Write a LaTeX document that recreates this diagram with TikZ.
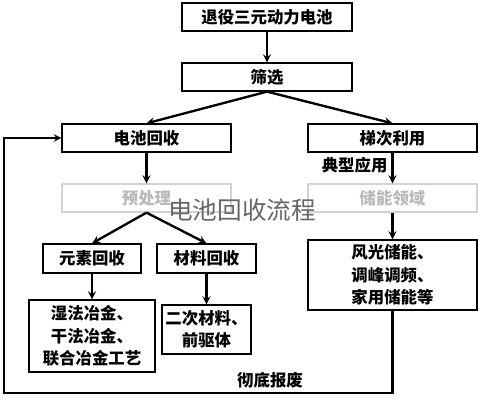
\documentclass[tikz,border=0pt]{standalone}
\usepackage{fontspec}
\setmainfont{Noto Sans CJK SC}
\begin{document}
\begin{tikzpicture}[>=stealth, x=0.03cm, y=-0.03cm,
    box/.style={draw, line width=1.1pt, minimum width=5.07cm, minimum height=0.84cm, inner sep=0pt, align=center, font=\fontsize{14}{19}\selectfont\bfseries},
    fadebox/.style={box, draw=gray!35, text=gray!55},
    flow/.style={->, line width=2pt}]
    \useasboundingbox (0,0) rectangle (478,400);
    \node[box, minimum width=5.1cm] (tc) at (267,17) {退役三元动力电池};
    \node[box, minimum width=5.1cm] (sx) at (267,77) {筛选};
    \node[box] (dc) at (146.5,138) {电池回收};
    \node[box] (td) at (392.5,138) {梯次利用};
    \node[fadebox] (yc) at (146.5,198) {预处理};
    \node[fadebox] (cn) at (392.5,198) {储能领域};
    \node[box, minimum width=2.94cm, minimum height=0.87cm] (ys) at (92,258.5) {元素回收};
    \node[box, minimum width=2.97cm, minimum height=0.87cm] (cl) at (206.5,258.5) {材料回收};
    \node[box, minimum width=3.78cm, minimum height=2.16cm] (yj) at (92,336) {湿法冶金、\\干法冶金、\\联合冶金工艺};
    \node[box, minimum width=2.67cm, minimum height=1.47cm] (ec) at (206.5,329.5) {二次材料、\\前驱体};
    \node[box, minimum height=2.1cm] (fg) at (392.5,275) {风光储能、\\调峰调频、\\家用储能等};
    \draw[flow] (tc) -- (sx);
    \draw[flow] (sx.south) -- (dc.north);
    \draw[flow] (sx.south) -- (td.north);
    \draw[flow] (dc) -- (yc);
    \draw[flow] (td) -- (cn) node[pos=0.4, left, font=\fontsize{14}{17}\selectfont\bfseries] {典型应用};
    \draw[flow] (yc.south) -- (ys.north);
    \draw[flow] (yc.south) -- (cl.north);
    \draw[flow] (ys) -- (yj);
    \draw[flow] (cl) -- (ec);
    \draw[flow] (cn) -- (fg);
    \coordinate (bl) at (4,393);
    \draw[->, line width=1.8pt] (fg.south) |- (bl) |- (dc.west);
    \node[font=\fontsize{14}{17}\selectfont\bfseries] (bf) at (270,380) {彻底报废};
    % watermark
    \node[text=gray!80!black, font=\fontsize{21}{24}\selectfont] (wm) at (242,210) {电池回收流程};
\end{tikzpicture}
\end{document}
